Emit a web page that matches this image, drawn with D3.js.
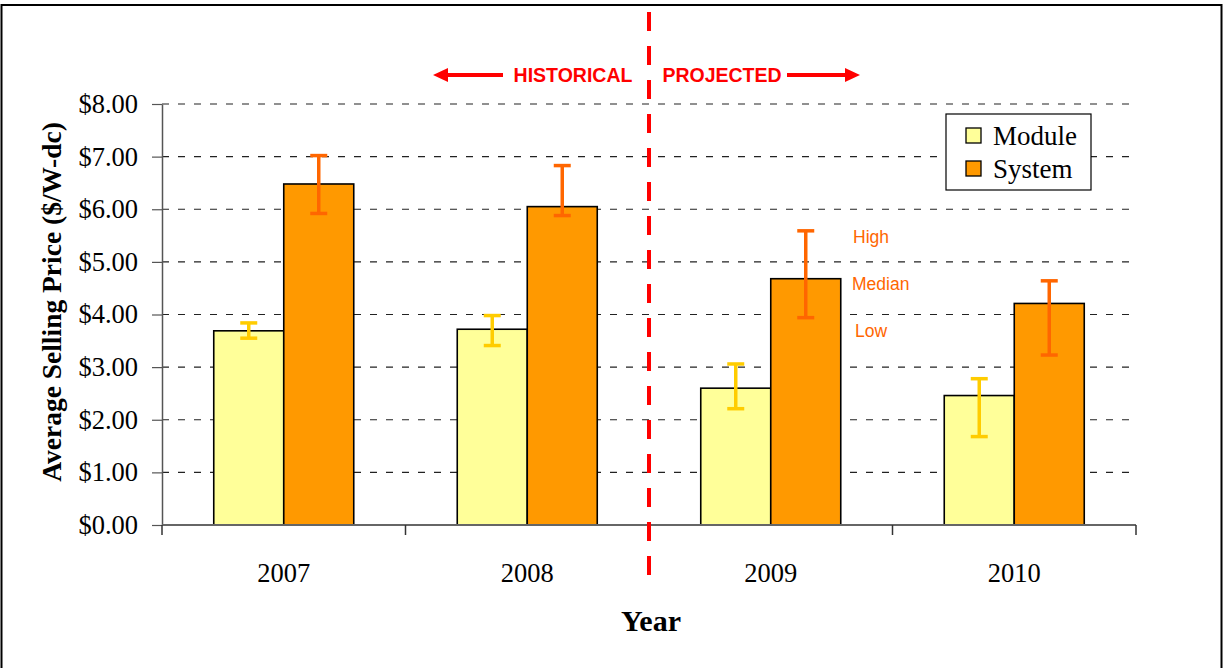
<!DOCTYPE html>
<html><head><meta charset="utf-8">
<script src="https://cdn.jsdelivr.net/npm/d3@7"></script>
<style>body{margin:0;background:#fff}svg{display:block}</style>
</head><body>
<svg id="c" width="1225" height="668"></svg>
<script>
const years = ["2007","2008","2009","2010"];
const seriesNames = ["Module","System"];
const moduleMedian = [3.69, 3.72, 2.60, 2.46];
const moduleLow    = [3.55, 3.41, 2.21, 1.68];
const moduleHigh   = [3.84, 3.98, 3.06, 2.78];
const systemMedian = [6.48, 6.05, 4.68, 4.21];
const systemLow    = [5.92, 5.88, 3.94, 3.23];
const systemHigh   = [7.02, 6.83, 5.59, 4.64];
const yTicks = [0,1,2,3,4,5,6,7,8];
const rangeLabels = ["High","Median","Low"];

const fills = {Module:"#FFFF99", System:"#FF9900"};
const errColors = {Module:"#FFCC00", System:"#FF6600"};
const serif = "'Liberation Serif','Times New Roman',serif";
const sans = "'Liberation Sans',Arial,sans-serif";

const svg = d3.select("#c");
const L=162, R=1136, T=104, B=525;

// outer frame
svg.append("rect").attr("x",1.5).attr("y",5).attr("width",1220).attr("height",670)
  .attr("fill","none").attr("stroke","#000").attr("stroke-width",2);

const x = d3.scaleBand().domain(years).range([L,R]).padding(0);
const xs = d3.scaleBand().domain(seriesNames).range([0,140]);
const y = d3.scaleLinear().domain([0,8]).range([B,T]);

// gridlines
svg.append("g").selectAll("line").data(yTicks.filter(d=>d>0)).join("line")
  .attr("x1",L).attr("x2",R).attr("y1",d=>y(d)).attr("y2",d=>y(d))
  .attr("stroke","#222").attr("stroke-width",1.2).attr("stroke-dasharray","7,9");

// bars
const data = years.map((yr,i)=>({yr, vals:[
  {s:"Module", m:moduleMedian[i], lo:moduleLow[i], hi:moduleHigh[i]},
  {s:"System", m:systemMedian[i], lo:systemLow[i], hi:systemHigh[i]}]}));
const bw = xs.bandwidth();
const g = svg.append("g").selectAll("g").data(data).join("g")
  .attr("transform",d=>`translate(${x(d.yr)+x.bandwidth()/2-70},0)`);
g.selectAll("rect").data(d=>d.vals).join("rect")
  .attr("x",d=>xs(d.s)).attr("width",bw)
  .attr("y",d=>y(d.m)).attr("height",d=>B-y(d.m))
  .attr("fill",d=>fills[d.s]).attr("stroke","#000").attr("stroke-width",1.6);
// error bars
const eb = g.selectAll("g.eb").data(d=>d.vals).join("g").attr("class","eb")
  .attr("stroke",d=>errColors[d.s]).attr("stroke-width",3.5);
eb.append("line").attr("x1",d=>xs(d.s)+bw/2).attr("x2",d=>xs(d.s)+bw/2)
  .attr("y1",d=>y(d.hi)).attr("y2",d=>y(d.lo));
eb.append("line").attr("x1",d=>xs(d.s)+bw/2-8.5).attr("x2",d=>xs(d.s)+bw/2+8.5)
  .attr("y1",d=>y(d.hi)).attr("y2",d=>y(d.hi));
eb.append("line").attr("x1",d=>xs(d.s)+bw/2-8.5).attr("x2",d=>xs(d.s)+bw/2+8.5)
  .attr("y1",d=>y(d.lo)).attr("y2",d=>y(d.lo));

// y axis
const yAxis = d3.axisLeft(y).tickValues(yTicks).tickFormat(d=>"$"+d3.format(".2f")(d)).tickSizeInner(10).tickSizeOuter(0).tickPadding(14);
const ya = svg.append("g").attr("transform",`translate(${L},0)`).call(yAxis);
ya.select(".domain").attr("stroke","#555").attr("stroke-width",1.5);
ya.selectAll(".tick line").attr("stroke","#555").attr("stroke-width",1.2);
ya.selectAll(".tick text").attr("font-family",serif).attr("font-size",26.5).attr("fill","#000");

// x axis
const xa = svg.append("g").attr("transform",`translate(0,${B})`);
xa.append("line").attr("x1",L).attr("x2",R).attr("stroke","#666").attr("stroke-width",2);
xa.selectAll("line.t").data([...years.map(d=>x(d)), R]).join("line").attr("class","t")
  .attr("x1",d=>d).attr("x2",d=>d).attr("y1",0).attr("y2",10).attr("stroke","#333").attr("stroke-width",1.5);
xa.selectAll("text").data(years).join("text")
  .attr("x",d=>x(d)+x.bandwidth()/2).attr("y",57).attr("text-anchor","middle")
  .attr("font-family",serif).attr("font-size",26.5).text(d=>d);

// axis titles
svg.append("text").attr("x",651).attr("y",631).attr("text-anchor","middle")
  .attr("font-family",serif).attr("font-weight","bold").attr("font-size",30).text("Year");
svg.append("text").attr("transform","translate(61,302) rotate(-90)").attr("text-anchor","middle")
  .attr("font-family",serif).attr("font-weight","bold").attr("font-size",27.5).text("Average Selling Price ($/W-dc)");

// red dashed divider
const divX = (x("2008")+x.bandwidth()+x("2009"))/2;
svg.append("line").attr("x1",divX).attr("x2",divX).attr("y1",12).attr("y2",587)
  .attr("stroke","#FF0000").attr("stroke-width",4).attr("stroke-dasharray","19,15");

// historical / projected labels with arrows
const red="#FF0000";
svg.append("text").attr("x",573).attr("y",82).attr("text-anchor","middle").attr("fill",red)
  .attr("font-family",sans).attr("font-weight","bold").attr("font-size",19.5).text("HISTORICAL");
svg.append("text").attr("x",722).attr("y",82).attr("text-anchor","middle").attr("fill",red)
  .attr("font-family",sans).attr("font-weight","bold").attr("font-size",19.5).text("PROJECTED");
svg.append("line").attr("x1",445).attr("x2",503).attr("y1",75).attr("y2",75).attr("stroke",red).attr("stroke-width",4);
svg.append("path").attr("d","M433,75 L448,68 L448,82 Z").attr("fill",red);
svg.append("line").attr("x1",787).attr("x2",846).attr("y1",75).attr("y2",75).attr("stroke",red).attr("stroke-width",4);
svg.append("path").attr("d","M860,75 L845,68 L845,82 Z").attr("fill",red);

// High / Median / Low labels
svg.selectAll("text.rl").data(rangeLabels).join("text").attr("class","rl")
  .attr("x",(d,i)=>[853,852,855][i]).attr("y",(d,i)=>[243,290,337][i])
  .attr("fill","#FF6600").attr("font-family",sans).attr("font-size",17.5).text(d=>d);

// legend
const lg = svg.append("g").attr("transform","translate(946,114)");
lg.append("rect").attr("width",145).attr("height",76).attr("fill","#fff").attr("stroke","#000").attr("stroke-width",1.2);
const li = lg.selectAll("g").data(seriesNames).join("g").attr("transform",(d,i)=>`translate(0,${22+i*33})`);
li.append("rect").attr("x",20).attr("y",-8).attr("width",15).attr("height",15)
  .attr("fill",d=>fills[d]).attr("stroke","#000").attr("stroke-width",1.3);
li.append("text").attr("x",47).attr("y",9).attr("font-family",serif).attr("font-size",27).text(d=>d);
</script>
</body></html>
